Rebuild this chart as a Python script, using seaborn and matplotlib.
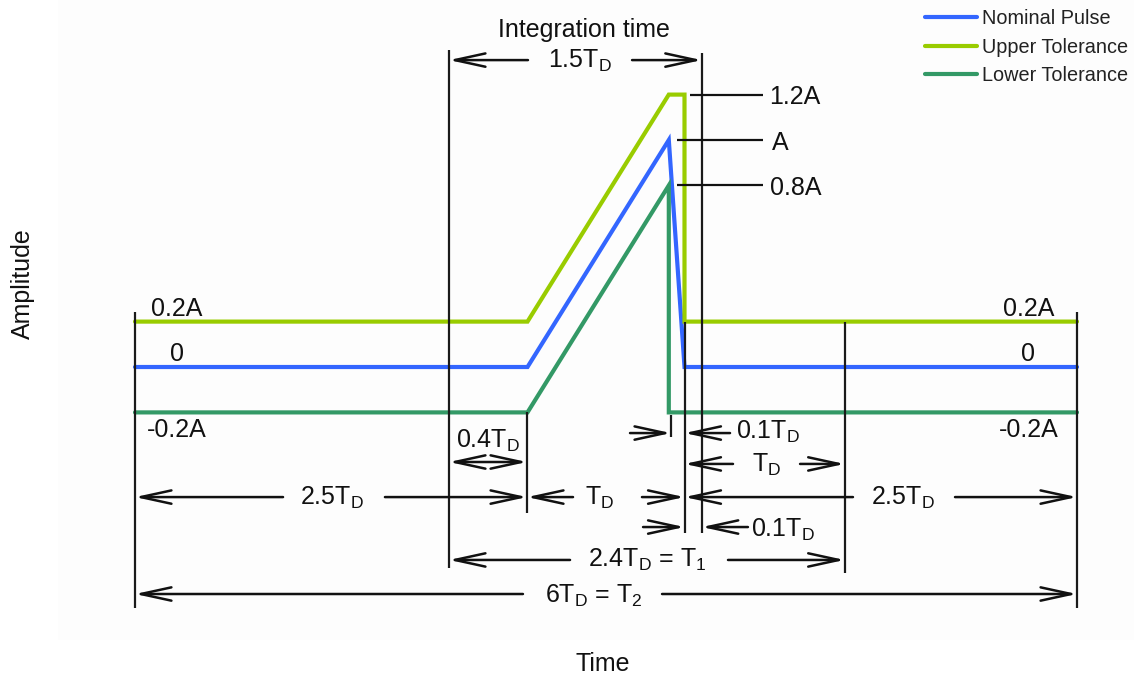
import matplotlib
matplotlib.use("Agg")
import matplotlib.pyplot as plt
import pandas as pd
import seaborn as sns

# Pulse shapes: time in units of T_D, amplitude in units of A
nominal_t = [0.0, 2.5, 3.4, 3.5, 6.0]
nominal_a = [0.0, 0.0, 1.0, 0.0, 0.0]
upper_t = [0.0, 2.5, 3.4, 3.5, 3.5, 6.0]
upper_a = [0.2, 0.2, 1.2, 1.2, 0.2, 0.2]
lower_t = [0.0, 2.5, 3.4, 3.4, 6.0]
lower_a = [-0.2, -0.2, 0.8, -0.2, -0.2]
series_names = ["Nominal Pulse", "Upper Tolerance", "Lower Tolerance"]
series_colors = ["#3366FF", "#99CC00", "#339966"]

# Level labels on both sides of the pulse
level_values = [0.2, 0.0, -0.2]
level_texts = ["0.2A", "0", "-0.2A"]
# Peak levels with their labels
peak_values = [1.2, 1.0, 0.8]
peak_texts = ["1.2A", "A", "0.8A"]

sns.set_theme(style="white")
plt.rcParams["font.family"] = ["Liberation Sans", "DejaVu Sans"]
plt.rcParams["mathtext.fontset"] = "custom"
plt.rcParams["mathtext.rm"] = "Liberation Sans"
plt.rcParams["mathtext.it"] = "Liberation Sans"
plt.rcParams["mathtext.default"] = "regular"

W, H = 1134, 677
fig = plt.figure(figsize=(W / 100, H / 100), dpi=100)
fig.patch.set_facecolor("white")
ax = fig.add_axes([58 / W, 37 / H, 1076 / W, 640 / H])
ax.set_facecolor("#fdfdfd")

frames = []
for name, t, a in zip(series_names, [nominal_t, upper_t, lower_t],
                      [nominal_a, upper_a, lower_a]):
    frames.append(pd.DataFrame({"time": t, "amplitude": a, "series": name}))
df = pd.concat(frames, ignore_index=True)

sns.lineplot(data=df, x="time", y="amplitude", hue="series",
             hue_order=series_names, palette=series_colors,
             sort=False, estimator=None, linewidth=3,
             solid_joinstyle="miter", ax=ax, zorder=2)

ax.set_xlim(-0.4904, 6.363)
ax.set_ylim(-1.2026, 1.6167)
ax.set_xticks([])
ax.set_yticks([])
for s in ax.spines.values():
    s.set_visible(False)

INK = "#111111"
FS = 18
LW = 1.6

# vertical extension lines (x, bottom, top)
guides = [(0.0, -1.062, 0.242), (2.0, -0.885, 1.396), (2.5, -0.643, -0.2),
          (3.414, -0.308, -0.211), (3.5, -0.731, 0.2), (3.61, -0.731, 1.383),
          (4.52, -0.907, 0.2), (6.0, -1.062, 0.242)]
for x, y0, y1 in guides:
    ax.plot([x, x], [y0, y1], color="#1a1a1a", lw=LW, zorder=3,
            solid_capstyle="butt")

# leader lines from the pulse peaks
peak_spans = [(3.535, 4.0), (3.45, 4.0), (3.45, 4.0)]
for yv, (x0, x1) in zip(peak_values, peak_spans):
    ax.plot([x0, x1], [yv, yv], color=INK, lw=LW, zorder=3,
            solid_capstyle="butt")


def dim_arrow(y, tail, tip, style="->"):
    ax.annotate("", xy=(tip, y), xytext=(tail, y),
                arrowprops=dict(arrowstyle=f"{style},head_length=1.1,head_width=0.24",
                                lw=LW + 0.2, color=INK, shrinkA=0, shrinkB=0,
                                mutation_scale=20),
                zorder=4)


# dimension arrows: (y, tail, tip)
arrows = [
    (1.352, 2.503, 2.0), (1.352, 3.166, 3.61),
    (-0.573, 0.943, 0.0), (-0.573, 1.592, 2.497),
    (-0.573, 2.79, 2.497), (-0.573, 3.229, 3.5),
    (-0.573, 4.573, 3.5), (-0.573, 5.223, 6.0),
    (-0.291, 3.153, 3.414), (-0.291, 3.79, 3.5),
    (-0.427, 3.809, 3.5), (-0.427, 4.236, 4.52),
    (-0.705, 3.236, 3.5), (-0.705, 3.904, 3.61),
    (-0.850, 2.771, 2.0), (-0.850, 3.777, 4.52),
    (-1.0, 2.471, 0.0), (-1.0, 3.357, 6.0),
]
for y, tail, tip in arrows:
    dim_arrow(y, tail, tip)
dim_arrow(-0.4185, 2.0, 2.497, style="<->")

# dimension texts (x, baseline y, text, ha)
dim_texts = [
    (2.86, 1.455, "Integration time", "center"),
    (2.834, 1.316, "1.5$T_D$", "center"),
    (2.25, -0.357, "0.4$T_D$", "center"),
    (1.255, -0.605, "2.5$T_D$", "center"),
    (2.96, -0.605, "$T_D$", "center"),
    (4.892, -0.605, "2.5$T_D$", "center"),
    (3.828, -0.317, "0.1$T_D$", "left"),
    (4.02, -0.463, "$T_D$", "center"),
    (3.924, -0.749, "0.1$T_D$", "left"),
    (3.26, -0.881, "2.4$T_D$ = $T_1$", "center"),
    (2.92, -1.04, "6$T_D$ = $T_2$", "center"),
]
for x, y, s, ha in dim_texts:
    ax.text(x, y, s, ha=ha, va="baseline", fontsize=FS, color=INK, zorder=5)

for yv, s in zip(level_values, level_texts):
    yb = yv + 0.025 if yv >= 0 else yv - 0.108
    ax.text(0.268, yb, s, ha="center", va="baseline", fontsize=FS, color=INK)
    ax.text(5.69, yb, s, ha="center", va="baseline", fontsize=FS, color=INK)

peak_x = [4.038, 4.057, 4.045]
for yv, x, s in zip(peak_values, peak_x, peak_texts):
    ax.text(x, yv - 0.042, s, ha="left", va="baseline", fontsize=FS, color=INK)

ax.set_xlabel("Time", fontsize=FS, color=INK)
ax.xaxis.set_label_coords((603 - 58) / 1076, -0.019)
ax.set_ylabel("Amplitude", fontsize=FS, color=INK)
ax.yaxis.set_label_coords((35 - 58) / 1076, (640 - 284) / 640)

handles, labels = ax.get_legend_handles_labels()
leg = ax.legend(handles, labels, loc="upper left",
                bbox_to_anchor=(925 / W, 1 - 9 / H),
                bbox_transform=fig.transFigure, frameon=False,
                fontsize=14.3, handlelength=2.6, handletextpad=0.25,
                labelspacing=0.48, borderpad=0, borderaxespad=0)
for ln in leg.get_lines():
    ln.set_linewidth(3)
for t in leg.get_texts():
    t.set_color("#222222")

fig.savefig("out.png", dpi=100, facecolor="white")
